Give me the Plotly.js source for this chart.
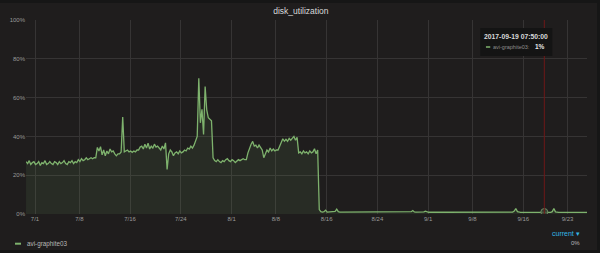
<!DOCTYPE html>
<html>
<head>
<meta charset="utf-8">
<script src="https://cdn.plot.ly/plotly-3.0.1.min.js"></script>
<style>
html,body{margin:0;padding:0;background:#161616;width:600px;height:253px;overflow:hidden;}
#chart{position:absolute;left:0;top:3px;width:597px;height:247px;}
</style>
</head>
<body>
<div id="chart"></div>
<script>
// ---- data ----
const chartTitle = 'disk_utilization';
const seriesName = 'avi-graphite03';
const sampleStart = '2017-06-29T14:00:00';
const sampleStepHours = 6;
// utilisation (%) every 6 hours
const utilEarly = [27,26,27.5,25.5,26.5,27,25.5,26,27,25,26.5,26,27.5,25.5,26,27,26,25.5,27,26.5,25.5,27,26,26.5,27.5,26,25.5,27,26.5,27.5,26,27,26.5,
  28,27,28.5,27.5,28,29,28,28.5,29,28.5,29,29];
const utilJuly = [34.3,32.5,34.7,30.5,33,30,32.5,31,33.5,32,32.5,31,30,31,
  31,32,50,32,32.5,33,32,32.5,31.8,32.5,32,33,
  33,34.5,35,33.5,36,34,36.5,33.5,35,34,36,34.5,35,
  34,33,35,33.5,36.7,23,
  31,33,32,30,31.5,32,31,32.5,31.5,32,33,32.5,34,33.5,35,34,35.5,
  38,40,70,47,54,41,65.7,53.7,49.6,48.6,48,29];
const utilAugust = [27.5,27,28,27,26.5,27.5,27,28,28.5,27.5,27,28,27.5,26.5,27.5,28,27.5,28,28.5,28,28,
  31.5,34,36,37.4,35,35.5,34,35.5,34,33,29,31.5,33,32,34,32.5,33.5,32.5,33,33,35,36,38.8,37.5,38.5,37.5,39,38,39,40,38,39.5,
  31.5,32,31,32.5,31.5,32,31,32.5,31.5,32,33.6,31,33];
const utilLate = [2.3,1.2,1,1.2,2,1,1.1,1,1,1.1,
  1.4,2.5,1.2,1,1,1.1,1,1,0.9,1,
  1,1.1,1,1,1,0.9,1,1,1.1,1,
  1,1,0.9,1,1,1,1.1,1,1,1,
  0.9,1,1,1,1,1.1,1,1,0.9,1,
  1,1,1,1.1,1,1,0.9,1,1.2,1.8,
  1.1,1,1,1,0.9,1,1.1,1.5,1,0.9,
  1,0.9,0.9,1,0.9,0.9,1,0.9,0.9,0.9,
  0.9,1,0.9,0.9,0.9,0.9,1,0.9,0.9,0.9,
  0.9,0.9,0.9,1,0.9,0.9,0.9,0.9,0.9,0.9,
  0.9,0.8,0.9,0.9,0.9,0.8,0.9,0.9,0.9,0.9,
  0.8,0.9,0.9,0.8,0.9,0.9,0.8,0.9,0.9,0.8,
  0.9,0.9,1,1.5,2.8,1.2,0.9,0.8,0.8,0.9,
  0.8,0.8,0.8,0.9,0.8,0.8,0.8,0.8,0.9,0.8,
  0.8,0.8,0.8,0.9,0.9,0.8,0.8,1.2,2.8,1.1,
  0.8,0.8,0.8,0.8,0.9,0.8,0.8,0.8,0.8,0.8,
  0.8,0.8,0.8,0.8,0.8,0.8,0.8,0.8,0.8,0.8];
const xTickDates = ['2017-07-01','2017-07-08','2017-07-16','2017-07-24','2017-08-01','2017-08-08','2017-08-16','2017-08-24','2017-09-01','2017-09-08','2017-09-16','2017-09-23'];
const xTickLabels = ['7/1','7/8','7/16','7/24','8/1','8/8','8/16','8/24','9/1','9/8','9/16','9/23'];
const yTickValues = [0,20,40,60,80,100];
const yTickLabels = ['0%','20%','40%','60%','80%','100%'];
const xRange = ['2017-06-29 13:55','2017-09-26 01:25'];
const hoverTime = '2017-09-19 07:50:00';
const hoverValue = 1;
const currentValue = '0%';

// ---- build ----
const util = utilEarly.concat(utilJuly, utilAugust, utilLate);
const t0 = new Date(sampleStart + 'Z').getTime();
const times = util.map((_, i) => {
  const d = new Date(t0 + i * sampleStepHours * 3600000);
  return d.toISOString().slice(0,19).replace('T',' ');
});

const green = '#7EB26D';
const font = 'Liberation Sans, Arial, sans-serif';
const tickColor = '#9a9a9a';
const gridColor = '#363434';

const traces = [
  {x: times, y: util, type: 'scatter', mode: 'lines', name: seriesName,
   line: {color: green, width: 1.3}, fill: 'tozeroy', fillcolor: 'rgba(126,178,109,0.1)', hoverinfo: 'skip'},
  {x: [hoverTime], y: [hoverValue], type: 'scatter', mode: 'markers',
   marker: {size: 7, color: 'rgba(60,70,55,0.8)', line: {color: '#6e8c63', width: 1}}, hoverinfo: 'skip'}
];

const plotL = 26, plotW = 560.7, plotTopPage = 20, plotH = 194;
const px = v => (v - plotL) / plotW;
const py = v => (plotTopPage + plotH - v) / plotH;

const layout = {
  width: 597, height: 247,
  margin: {l: 26, r: 10.3, t: 17, b: 36, pad: 0},
  paper_bgcolor: '#1f1d1d', plot_bgcolor: '#1f1d1d',
  showlegend: false,
  font: {family: font, color: tickColor, size: 6},
  title: {text: chartTitle, font: {family: font, size: 8.5, color: '#d8d9da'}, x: 0.504, xanchor: 'center', y: 0.968, yanchor: 'middle', yref: 'container'},
  xaxis: {type: 'date', range: xRange, tickmode: 'array', tickvals: xTickDates, ticktext: xTickLabels,
          showgrid: true, gridcolor: gridColor, gridwidth: 1, zeroline: false, showline: false, ticks: '',
          tickfont: {family: font, size: 6, color: tickColor}, fixedrange: true},
  yaxis: {range: [0, 100], tickmode: 'array', tickvals: yTickValues, ticktext: yTickLabels,
          showgrid: true, gridcolor: gridColor, gridwidth: 1, zeroline: false, showline: false, ticks: '',
          tickfont: {family: font, size: 6, color: tickColor}, fixedrange: true},
  shapes: [
    {type: 'line', xref: 'x', yref: 'paper', x0: hoverTime, x1: hoverTime, y0: 0, y1: 1, line: {color: '#6e1818', width: 1}},
    {type: 'rect', xref: 'paper', yref: 'paper', x0: px(480), x1: px(552), y0: py(56), y1: py(28), fillcolor: '#141414', line: {color: '#141414', width: 0}, layer: 'above'},
    {type: 'line', xref: 'paper', yref: 'paper', x0: px(485.7), x1: px(490), y0: py(47), y1: py(47), line: {color: green, width: 1.5}, layer: 'above'},
    {type: 'line', xref: 'paper', yref: 'paper', x0: px(15), x1: px(21), y0: py(243.7), y1: py(243.7), line: {color: green, width: 2}}
  ],
  annotations: [
    {xref: 'paper', yref: 'paper', x: px(516), y: py(36), text: '<b>' + hoverTime + '</b>', showarrow: false, xanchor: 'center', yanchor: 'middle', font: {family: font, size: 6.8, color: '#d8d9da'}},
    {xref: 'paper', yref: 'paper', x: px(491), y: py(47), text: seriesName + ':', showarrow: false, xanchor: 'left', yanchor: 'middle', font: {family: font, size: 5.5, color: '#8e8e8e'}},
    {xref: 'paper', yref: 'paper', x: px(547), y: py(47), text: '<b>' + hoverValue + '%</b>', showarrow: false, xanchor: 'right', yanchor: 'middle', font: {family: font, size: 6.5, color: '#e8e8e8'}},
    {xref: 'paper', yref: 'paper', x: px(25), y: py(243.7), text: seriesName, showarrow: false, xanchor: 'left', yanchor: 'middle', font: {family: font, size: 6.3, color: '#b8b8b8'}},
    {xref: 'paper', yref: 'paper', x: px(581.7), y: py(233.3), text: 'current ▾', showarrow: false, xanchor: 'right', yanchor: 'middle', font: {family: font, size: 7, color: '#33b5e5'}},
    {xref: 'paper', yref: 'paper', x: px(581.7), y: py(243.3), text: currentValue, showarrow: false, xanchor: 'right', yanchor: 'middle', font: {family: font, size: 6, color: '#b8b8b8'}}
  ]
};

Plotly.newPlot('chart', traces, layout, {staticPlot: true, displayModeBar: false});
</script>
</body>
</html>
